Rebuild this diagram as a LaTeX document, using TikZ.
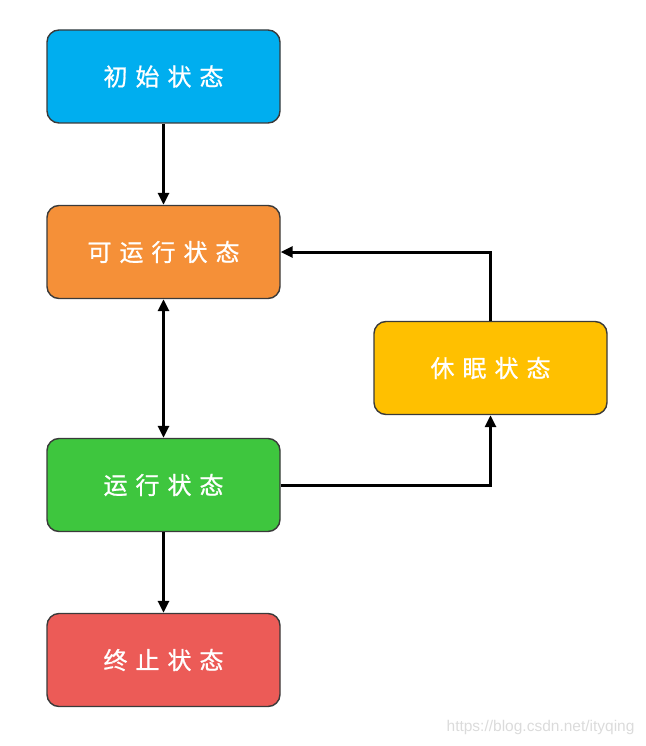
\documentclass[tikz,border=0pt]{standalone}
\usepackage{fontspec}
\newfontfamily\cjk[FakeBold=0.8]{Noto Sans CJK SC}
\setsansfont{Liberation Sans}
\usetikzlibrary{arrows.meta}
\newcommand{\lbl}[4]{#1\hspace{8pt}#2\hspace{8pt}#3\hspace{8pt}#4}
\newcommand{\lblv}[5]{#1\hspace{8pt}#2\hspace{8pt}#3\hspace{8pt}#4\hspace{8pt}#5}
\definecolor{cblue}{HTML}{00AEEF}
\definecolor{corange}{HTML}{F59038}
\definecolor{cyellow}{HTML}{FFC000}
\definecolor{cgreen}{HTML}{3EC63E}
\definecolor{cred}{HTML}{EC5B57}
\definecolor{cedge}{HTML}{3A3A3A}
\begin{document}
\begin{tikzpicture}[x=1pt,y=-1pt,
  state/.style={draw=cedge,line width=1.4pt,rounded corners=12pt,minimum width=233pt,minimum height=93pt,inner sep=0pt,text=white,font=\cjk\fontsize{24}{24}\selectfont},
  conn/.style={line width=3pt,black,-{Triangle[width=11pt,length=12pt]}},
  biconn/.style={line width=3pt,black,{Triangle[width=11pt,length=12pt]}-{Triangle[width=11pt,length=12pt]}}]
\useasboundingbox (0,0) rectangle (645,746);
\node[state,fill=cblue] (init) at (163.5,76.5) {\lbl{初}{始}{状}{态}};
\node[state,fill=corange] (run) at (163.5,252) {\lblv{可}{运}{行}{状}{态}};
\node[state,fill=cyellow] (sleep) at (490.5,368) {\lbl{休}{眠}{状}{态}};
\node[state,fill=cgreen] (running) at (163.5,485) {\lbl{运}{行}{状}{态}};
\node[state,fill=cred] (term) at (163.5,660) {\lbl{终}{止}{状}{态}};
\draw[conn] (init.south) -- (run.north);
\draw[biconn] (run.south) -- (running.north);
\draw[conn] (running.south) -- (term.north);
\draw[conn] (running.east) -| (sleep.south);
\draw[conn] (sleep.north) |- (run.east);
\node[anchor=east,text=black!14,font=\sffamily\fontsize{15.5}{15.5}\selectfont] (wm) at (638,727) {https://blog.csdn.net/ityqing};
\end{tikzpicture}
\end{document}
